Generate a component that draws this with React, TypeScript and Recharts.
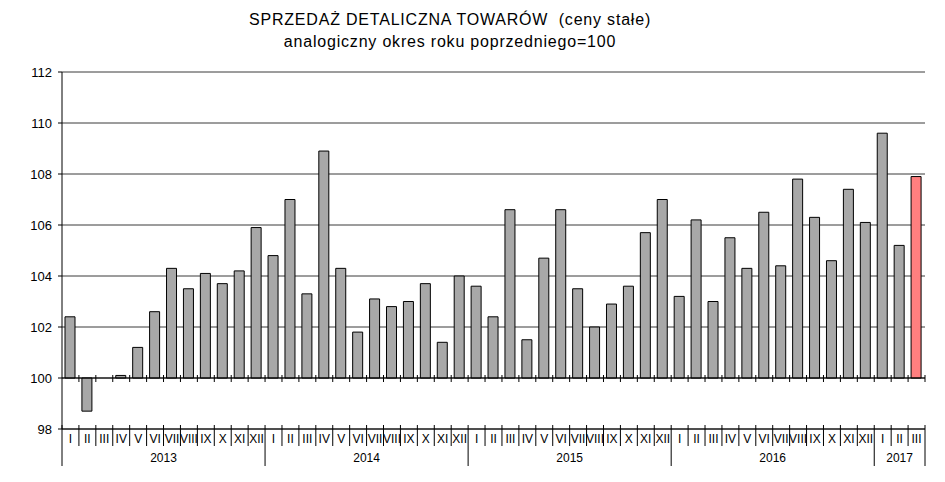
import React from "react";
import {
  BarChart,
  Bar,
  XAxis,
  YAxis,
  CartesianGrid,
  ReferenceLine,
  Cell,
} from "recharts";

const YEARS = [2013, 2014, 2015, 2016, 2017];
const MONTHS_PER_YEAR = [12, 12, 12, 12, 3];
const MONTHS = ["I", "II", "III", "IV", "V", "VI", "VII", "VIII", "IX", "X", "XI", "XII"];

const VALUES = [
  102.4, 98.7, 100.0, 100.1, 101.2, 102.6, 104.3, 103.5, 104.1, 103.7, 104.2, 105.9,
  104.8, 107.0, 103.3, 108.9, 104.3, 101.8, 103.1, 102.8, 103.0, 103.7, 101.4, 104.0,
  103.6, 102.4, 106.6, 101.5, 104.7, 106.6, 103.5, 102.0, 102.9, 103.6, 105.7, 107.0,
  103.2, 106.2, 103.0, 105.5, 104.3, 106.5, 104.4, 107.8, 106.3, 104.6, 107.4, 106.1,
  109.6, 105.2, 107.9,
];

const Y_TICKS = [98, 100, 102, 104, 106, 108, 110, 112];
const BASE = 100;

const GREY = "#a8a8a8";
const RED = "#ff7f7f";
const FONT = "'Liberation Sans', Arial, sans-serif";

const WIDTH = 945;
const HEIGHT = 482;
const X_AXIS_HEIGHT = 53;
const MARGIN = { top: 72, right: 20, bottom: 0, left: 0 };

type Row = { key: string; month: string; year: number; first: boolean; last: boolean; groupSize: number; value: number };

const data: Row[] = [];
{
  let i = 0;
  YEARS.forEach((year, yi) => {
    const n = MONTHS_PER_YEAR[yi];
    for (let m = 0; m < n; m++) {
      data.push({
        key: `${year}-${MONTHS[m]}`,
        month: MONTHS[m],
        year,
        first: m === 0,
        last: i === VALUES.length - 1,
        groupSize: n,
        value: VALUES[i],
      });
      i++;
    }
  });
}

const MonthTick = (props: any) => {
  const { x, y, payload, index } = props;
  const row = data[index];
  if (!row) return null;
  const half =
    payload && typeof payload.offset === "number" && payload.offset > 0
      ? payload.offset
      : (WIDTH - MARGIN.right - 62) / data.length / 2;
  const left = x - half;
  return (
    <g>
      <line
        x1={left}
        x2={left}
        y1={y - 4}
        y2={row.first ? y + 37 : y + 17}
        stroke="#000"
      />
      {row.last && (
        <line x1={x + half} x2={x + half} y1={y - 4} y2={y + 37} stroke="#000" />
      )}
      <text x={x} y={y + 14} textAnchor="middle" fontSize={12} fontFamily={FONT} fill="#000">
        {row.month}
      </text>
      {row.first && (
        <text
          x={left + row.groupSize * half}
          y={y + 33}
          textAnchor="middle"
          fontSize={12}
          fontFamily={FONT}
          fill="#000"
        >
          {row.year}
        </text>
      )}
    </g>
  );
};

const TickedBaseline = (props: any) => {
  const { x1, x2, y1 } = props;
  const step = (x2 - x1) / data.length;
  return (
    <g>
      <line x1={x1} x2={x2} y1={y1} y2={y1} stroke="#000" />
      {data.map((_, i) => (
        <line
          key={i}
          x1={x1 + step * (i + 1)}
          x2={x1 + step * (i + 1)}
          y1={y1 - 3}
          y2={y1 + 4}
          stroke="#000"
        />
      ))}
    </g>
  );
};

export default function App() {
  return (
    <div
      style={{
        position: "absolute",
        left: 0,
        top: 0,
        width: WIDTH,
        height: HEIGHT,
        background: "#fff",
        fontFamily: FONT,
      }}
    >
      <div
        style={{
          position: "absolute",
          left: 0,
          top: 9,
          width: 900,
          textAlign: "center",
          fontSize: 16,
          letterSpacing: 0.8,
          lineHeight: "22px",
          color: "#000",
          whiteSpace: "pre",
        }}
      >
        <div>{"SPRZEDAŻ DETALICZNA TOWARÓW  (ceny stałe)"}</div>
        <div>{"analogiczny okres roku poprzedniego=100"}</div>
      </div>
      <BarChart
        width={WIDTH}
        height={HEIGHT}
        data={data}
        margin={MARGIN}
        barSize={10}
        style={{ position: "absolute", left: 0, top: 0 }}
      >
        <CartesianGrid vertical={false} stroke="#3a3a3a" />
        <XAxis
          dataKey="key"
          interval={0}
          tickLine={false}
          tickSize={0}
          tickMargin={0}
          axisLine={{ stroke: "#000" }}
          tick={<MonthTick />}
          height={X_AXIS_HEIGHT}
        />
        <YAxis
          width={62}
          domain={[98, 112]}
          ticks={Y_TICKS}
          interval={0}
          tickSize={4}
          tickMargin={6}
          axisLine={{ stroke: "#000" }}
          tickLine={{ stroke: "#000" }}
          tick={{ fill: "#000", fontSize: 13, fontFamily: FONT }}
          allowDataOverflow
        />
        <Bar
          dataKey={(d: Row) => [BASE, d.value]}
          stroke="#000"
          strokeWidth={1}
          isAnimationActive={false}
        >
          {data.map((row, i) => (
            <Cell key={row.key} fill={i === data.length - 1 ? RED : GREY} />
          ))}
        </Bar>
        <ReferenceLine y={BASE} stroke="#000" shape={<TickedBaseline />} />
      </BarChart>
    </div>
  );
}
